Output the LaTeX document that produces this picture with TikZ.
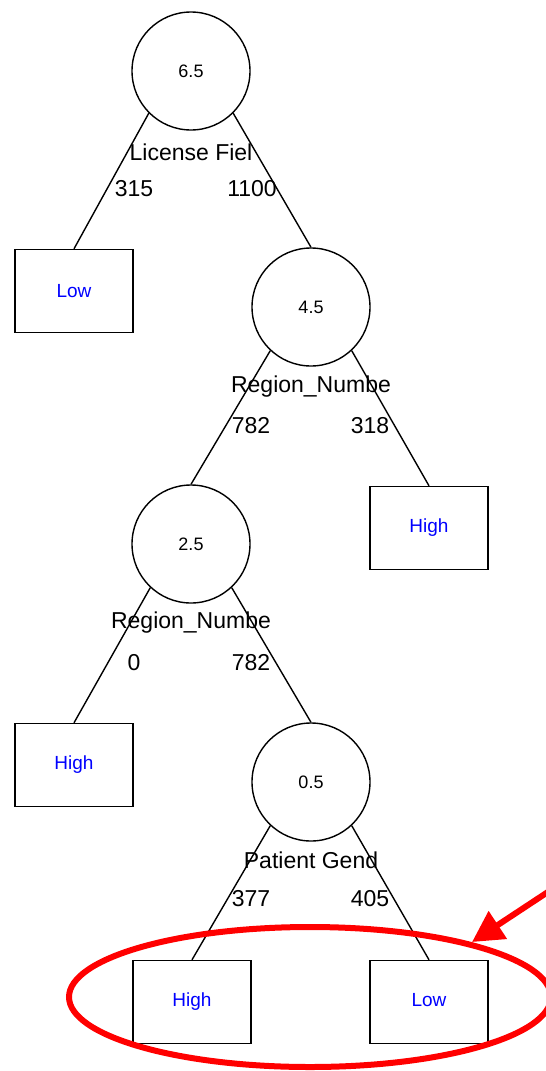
\documentclass[tikz,border=0pt]{standalone}
\usepackage{fontspec}
\setmainfont{Liberation Sans}
\usetikzlibrary{arrows.meta}

\begin{document}
\begin{tikzpicture}[x=0.5pt,y=-0.5pt,
  split/.style={draw,circle,minimum size=59pt,inner sep=0pt,line width=0.7pt,font=\fontsize{9}{10}\selectfont},
  leaf/.style={draw,rectangle,minimum width=59pt,minimum height=41.5pt,inner sep=0pt,line width=0.7pt,text=blue,font=\fontsize{9.5}{11}\selectfont},
  attr/.style={inner sep=0pt,font=\fontsize{11.5}{13}\selectfont},
  count/.style={inner sep=0pt,font=\fontsize{11.5}{13}\selectfont}]
\useasboundingbox (0,0) rectangle (546,1071);
\clip (0,0) rectangle (546,1071);
% splits
\node[split] (c65) at (191,71) {6.5};
\node[split] (c45) at (311,307) {4.5};
\node[split] (c25) at (191,544) {2.5};
\node[split] (c05) at (311,782) {0.5};
% leaves
\node[leaf] (lowA) at (74,291) {Low};
\node[leaf] (highA) at (429,528) {High};
\node[leaf] (highB) at (74,765) {High};
\node[leaf] (highC) at (192,1002) {High};
\node[leaf] (lowB) at (429,1002) {\strut Low};
% branches
\draw[line width=0.7pt] (c65.-135) -- (lowA.north);
\draw[line width=0.7pt] (c65.-45) -- (c45.north);
\draw[line width=0.7pt] (c45.-133) -- (c25.north);
\draw[line width=0.7pt] (c45.-47) -- (highA.north);
\draw[line width=0.7pt] (c25.-133) -- (highB.north);
\draw[line width=0.7pt] (c25.-47) -- (c05.north);
\draw[line width=0.7pt] (c05.-133) -- (highC.north);
\draw[line width=0.7pt] (c05.-47) -- (lowB.north);
% labels
\node[attr] (a65) at (191,152) {License Fiel};
\node[count] (n315) at (134,189) {315};
\node[count] (n1100) at (252,189) {1100};
\node[attr] (a45) at (311,387) {Region\_Numbe};
\node[count] (n782a) at (251,426) {782};
\node[count] (n318) at (370,426) {318};
\node[attr] (a25) at (191,623) {Region\_Numbe};
\node[count] (n0) at (134,663) {0};
\node[count] (n782b) at (251,663) {782};
\node[attr] (a05) at (311,860) {Patient Gend};
\node[count] (n377) at (251,899) {377};
\node[count] (n405) at (370,899) {405};
% highlight
\draw[red,line width=3pt] (310,997) ellipse [x radius=241,y radius=70];
\coordinate (from) at (560,884);
\coordinate (tip) at (472,942);
\draw[red,line width=3pt,-{Triangle[length=15.5pt,width=16pt]}] (from) -- (tip);
\end{tikzpicture}
\end{document}
